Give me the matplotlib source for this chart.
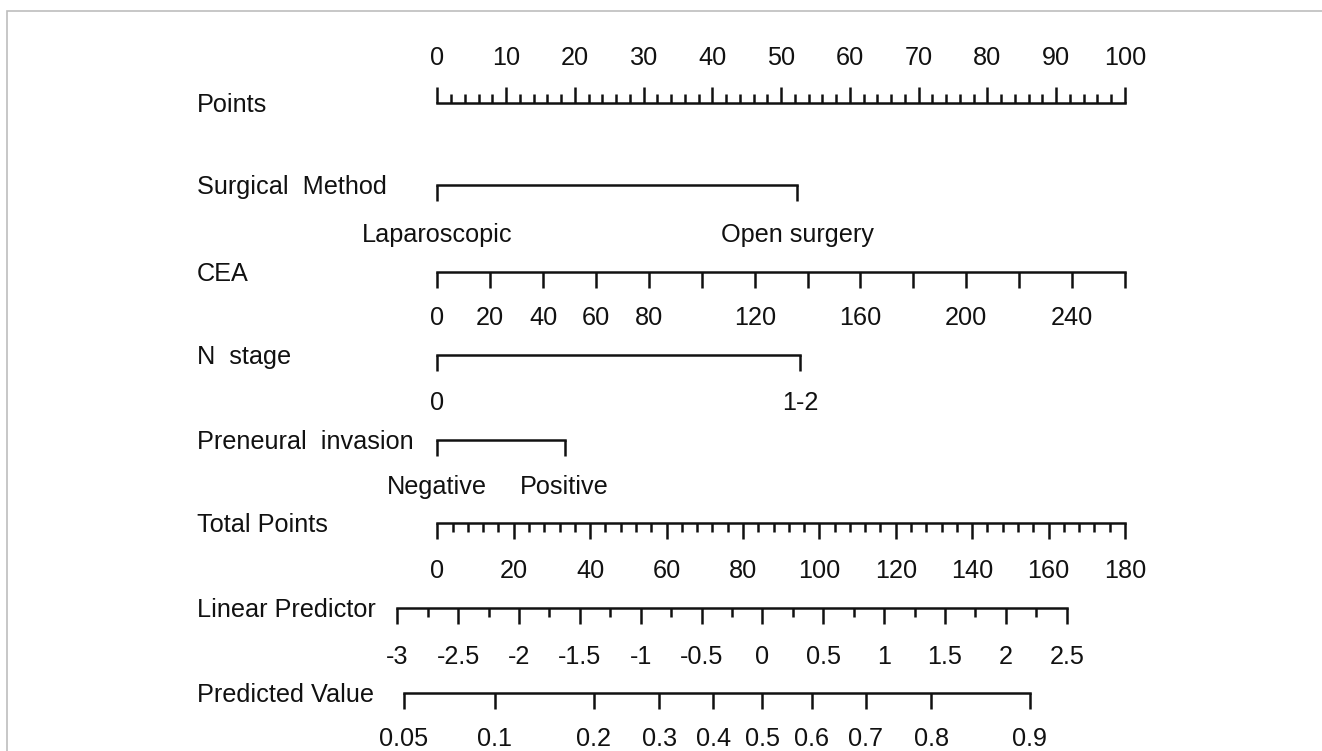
import numpy as np
import matplotlib.pyplot as plt
from matplotlib.patches import Rectangle

plt.rcParams['font.family'] = ['Liberation Sans', 'DejaVu Sans']

# ---- data ----
row_names = ['Points', 'Surgical  Method', 'CEA', 'N  stage',
             'Preneural  invasion', 'Total Points', 'Linear Predictor',
             'Predicted Value']

points_ticks = np.arange(0, 101, 10)
points_minor = np.arange(0, 101, 2)

surgical_levels = ['Laparoscopic', 'Open surgery']
surgical_points = [0, 52.3]

cea_ticks = np.arange(0, 261, 20)
cea_labels = [0, 20, 40, 60, 80, 120, 160, 200, 240]
cea_max = 260          # CEA value worth 100 points

n_levels = ['0', '1-2']
n_points = [0, 52.8]

pni_levels = ['Negative', 'Positive']
pni_points = [0, 18.5]

total_ticks = np.arange(0, 181, 20)
total_minor = np.arange(0, 181, 4)
total_max = 180        # total points spanning the 0-100 points axis

lp_ticks = np.arange(-3, 2.51, 0.5)
lp_minor = np.arange(-2.75, 2.5, 0.5)
lp_labels = ['-3', '-2.5', '-2', '-1.5', '-1', '-0.5', '0', '0.5', '1',
             '1.5', '2', '2.5']
lp_zero_total = 85.1   # total points where linear predictor = 0
lp_unit_total = 31.86  # total points per unit of linear predictor

pv_ticks = [0.05, 0.1, 0.2, 0.3, 0.4, 0.5, 0.6, 0.7, 0.8, 0.9]
pv_labels = ['0.05', '0.1', '0.2', '0.3', '0.4', '0.5', '0.6', '0.7', '0.8', '0.9']

# ---- layout (pixels) ----
W, H = 1322, 751
X0_PX, PX_PER_PT = 437.3, 6.877
row_y = [103, 185, 272, 355, 440, 523, 608, 693]
label_gap = 48
major_len, minor_len = 16, 9
fs = 18.2
lw = 1.8
col = '#111111'


def px(v):
    return (v - X0_PX) / PX_PER_PT


def total_to_pts(t):
    return np.asarray(t, dtype=float) * 100.0 / total_max


def lp_to_pts(lp):
    return total_to_pts(lp_zero_total + np.asarray(lp, dtype=float) * lp_unit_total)


def scale(ax, y, xs, major, minor=(), down=True, labels=None, label_y=None):
    s = 1 if down else -1
    ax.plot([min(xs), max(xs)], [y, y], color=col, lw=lw, solid_capstyle='projecting')
    for m in major:
        ax.plot([m, m], [y, y + s * major_len], color=col, lw=lw, solid_capstyle='butt')
    for m in minor:
        ax.plot([m, m], [y, y + s * minor_len], color=col, lw=lw, solid_capstyle='butt')
    if labels is not None:
        for m, t in labels:
            ax.text(m, label_y, t, ha='center', va='center', fontsize=fs, color=col)


fig = plt.figure(figsize=(W / 100, H / 100), dpi=100)
ax = fig.add_axes([0, 0, 1, 1])
ax.set_xlim(px(0), px(W))
ax.set_ylim(H, 0)
ax.axis('off')

# light frame of the figure panel
fig.patches.append(Rectangle((7 / W, -0.1), 1.2, 1.1 - 11 / H, transform=fig.transFigure,
                             fill=False, ec='#bdbdbd', lw=1.2))

for name, y in zip(row_names, row_y):
    ax.text(px(197), y + 2, name, ha='left', va='center', fontsize=fs, color=col)

# Points
minor_p = [p for p in points_minor if p % 10 != 0]
scale(ax, row_y[0], [0, 100], points_ticks, minor_p, down=False,
      labels=[(p, str(p)) for p in points_ticks], label_y=row_y[0] - 45)

# Surgical method
scale(ax, row_y[1], surgical_points, surgical_points,
      labels=list(zip(surgical_points, surgical_levels)), label_y=row_y[1] + 50)

# CEA
cea_pts = cea_ticks * 100.0 / cea_max
scale(ax, row_y[2], [0, 100], cea_pts,
      labels=[(c * 100.0 / cea_max, str(c)) for c in cea_labels], label_y=row_y[2] + 46)

# N stage
scale(ax, row_y[3], n_points, n_points,
      labels=list(zip(n_points, n_levels)), label_y=row_y[3] + 48)

# Perineural invasion
scale(ax, row_y[4], pni_points, pni_points,
      labels=list(zip(pni_points, pni_levels)), label_y=row_y[4] + 47)

# Total points
tp = total_to_pts(total_ticks)
minor_t = total_to_pts([t for t in total_minor if t % 20 != 0])
scale(ax, row_y[5], [0, 100], tp, minor_t,
      labels=[(p, str(t)) for p, t in zip(tp, total_ticks)], label_y=row_y[5] + label_gap)

# Linear predictor
lpp = lp_to_pts(lp_ticks)
scale(ax, row_y[6], [lpp[0], lpp[-1]], lpp, lp_to_pts(lp_minor),
      labels=list(zip(lpp, lp_labels)), label_y=row_y[6] + 49)

# Predicted value
pv = np.array(pv_ticks)
pvp = lp_to_pts(np.log(pv / (1 - pv)))
scale(ax, row_y[7], [pvp[0], pvp[-1]], pvp,
      labels=list(zip(pvp, pv_labels)), label_y=row_y[7] + 46)

fig.savefig('out.png', dpi=100, facecolor='white')
